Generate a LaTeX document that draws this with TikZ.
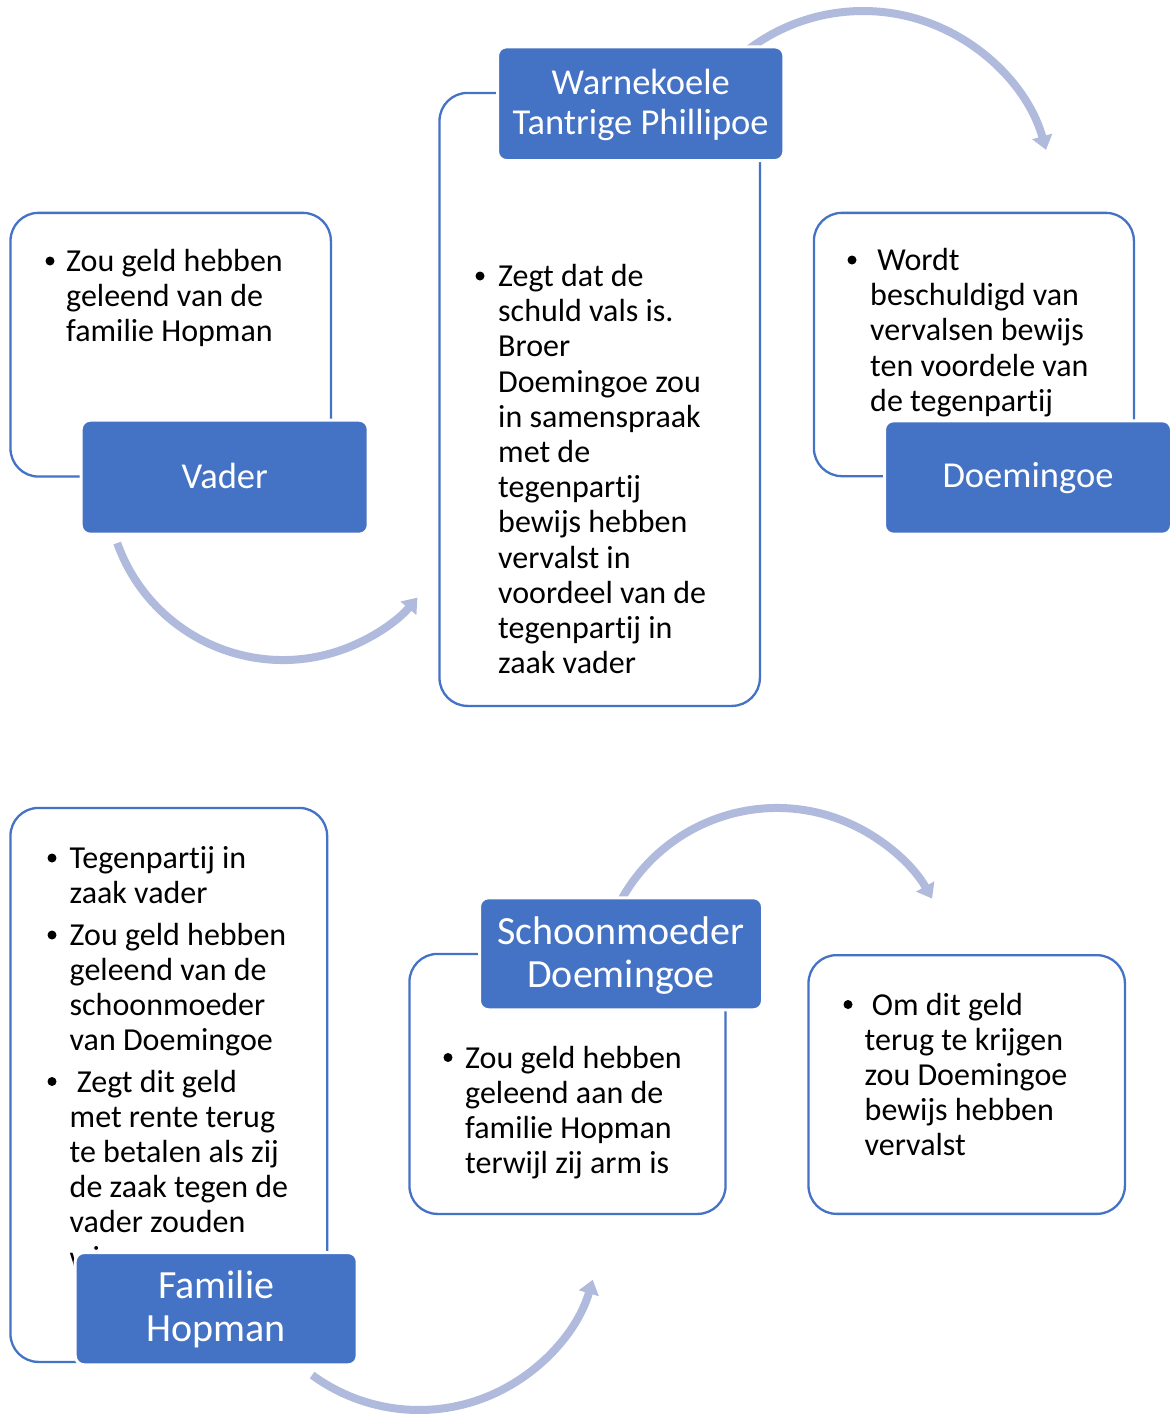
\documentclass[tikz,border=0pt]{standalone}
\usepackage{fontspec}
\setmainfont{Carlito}[Ligatures={NoCommon,NoContextual}]
\usetikzlibrary{arrows.meta}
\definecolor{accent}{RGB}{68,114,196}
\definecolor{arrowc}{RGB}{175,186,221}
\tikzset{
  wbox/.style={draw=accent, line width=2.3pt, fill=white, rounded corners=28pt, inner sep=0pt},
  bbox/.style={draw=white, line width=3pt, fill=accent, rounded corners=9pt, inner sep=0pt},
  body/.style={inner sep=0pt, font=\fontsize{32}{35.2}\selectfont, text=black},
  ttl/.style={inner sep=0pt, anchor=base, text=white, font=\fontsize{36.5}{40}\selectfont},
  ttlb/.style={inner sep=0pt, anchor=base, text=white, font=\fontsize{40}{44}\selectfont},
  bul/.style={circle, fill=black, inner sep=0pt, minimum size=9pt},
  cyc/.style={draw=arrowc, line width=8pt, -{Triangle[width=20pt,length=14pt]}},
}
\newcommand\bullines[4]{%
  \foreach \t [count=\i] in {#4}
    \node[body, anchor=base west] (#1\i) at (#2, #3+35.2*\i-35.2) {\t};}
\begin{document}
\begin{tikzpicture}[x=1pt, y=-1pt]
\useasboundingbox (0,0) rectangle (1171,1417);
% white content boxes
\node[wbox, minimum width=320.4pt, minimum height=263.7pt] (vaderbox) at (170.7,344.7) {};
\node[wbox, minimum width=320.4pt, minimum height=613pt] (warnbox) at (599.7,399.4) {};
\node[wbox, minimum width=320pt, minimum height=263.3pt] (doembox) at (973.9,344.5) {};
\node[wbox, minimum width=316.7pt, minimum height=554pt] (hopbox) at (168.8,1084.9) {};
\node[wbox, minimum width=316.1pt, minimum height=260pt] (schbox) at (567.5,1083.9) {};
\node[wbox, minimum width=316.4pt, minimum height=258.7pt] (rbox) at (966.7,1084.5) {};
% cycle arrows
\coordinate (c1) at (863,201);
\draw[cyc] ([shift={(130:190pt)}]c1) arc[start angle=130, end angle=15.6, radius=190pt];
\coordinate (c2) at (283,484);
\draw[cyc] ([shift={(199.6:176pt)}]c2) arc[start angle=199.6, end angle=319.8, radius=176pt];
\coordinate (c3) at (777,986);
\draw[cyc] ([shift={(155:178pt)}]c3) arc[start angle=155, end angle=29.4, radius=178pt];
\coordinate (c4) at (419,1229);
\draw[cyc] ([shift={(233.8:181pt)}]c4) arc[start angle=233.8, end angle=343.7, radius=181pt];
% bullet texts
\node[bul] (vb1) at (50,261) {};
\bullines{va}{66}{271.5}{Zou geld hebben, geleend van de, familie Hopman}
\node[bul] (wb1) at (480,276) {};
\bullines{wa}{498}{286.5}{Zegt dat de, schuld vals is., Broer, Doemingoe zou, in samenspraak, met de, tegenpartij, bewijs hebben, vervalst in, voordeel van de, tegenpartij in, zaak vader}
\node[bul] (db1) at (852,260) {};
\bullines{da}{870}{270.5}{{\ Wordt}, beschuldigd van, vervalsen bewijs, ten voordele van, de tegenpartij}
\node[bul] (hb1) at (52,858) {};
\bullines{ha}{69.5}{868}{Tegenpartij in, zaak vader}
\node[bul] (hb2) at (52,935) {};
\bullines{hb}{69.5}{945}{Zou geld hebben, geleend van de, schoonmoeder, van Doemingoe}
\node[bul] (hb3) at (52,1081.5) {};
\bullines{hc}{69.5}{1092}{{\ Zegt dit geld}, met rente terug, te betalen als zij, de zaak tegen de, vader zouden, winnen}
\node[bul] (sb1) at (448,1057.5) {};
\bullines{sa}{465}{1068}{Zou geld hebben, geleend aan de, familie Hopman, terwijl zij arm is}
\node[bul] (rb1) at (848,1004.5) {};
\bullines{ra}{864.5}{1015}{{\ Om dit geld}, terug te krijgen, zou Doemingoe, bewijs hebben, vervalst}
% blue title boxes
\node[bbox, minimum width=287pt, minimum height=114pt] (vader) at (224.7,477.2) {};
\node[ttl] (vadert) at (224.7,488.3) {Vader};
\node[bbox, minimum width=286.3pt, minimum height=113.7pt] (warn) at (640.7,103.7) {};
\node[ttl] (warnt1) at (640.7,94) {Warnekoele};
\node[ttl] (warnt2) at (640.7,134.3) {Tantrige Phillipoe};
\node[bbox, minimum width=287pt, minimum height=113.4pt] (doem) at (1028,477.5) {};
\node[ttl] (doemt) at (1028,487.5) {Doemingoe};
\node[bbox, minimum width=282pt, minimum height=112.3pt] (hop) at (216.2,1308.7) {};
\node[ttlb] (hopt1) at (216.2,1298.3) {Familie};
\node[ttlb] (hopt2) at (216.2,1341.7) {Hopman};
\node[bbox, minimum width=283pt, minimum height=112pt] (sch) at (621,953.8) {};
\node[ttlb] (scht1) at (621,944) {Schoonmoeder};
\node[ttlb] (scht2) at (621,987.7) {Doemingoe};
\end{tikzpicture}
\end{document}
